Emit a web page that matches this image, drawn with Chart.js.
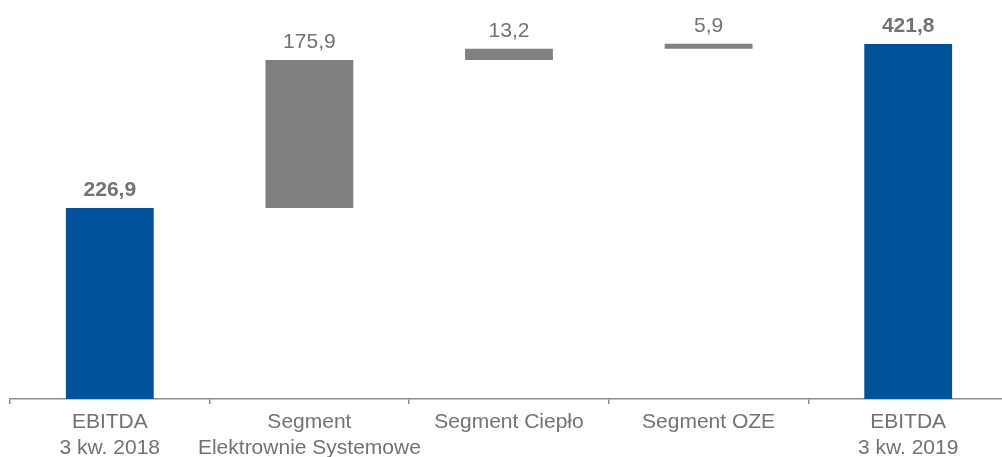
<!DOCTYPE html>
<html>
<head>
<meta charset="utf-8">
<script src="https://cdn.jsdelivr.net/npm/chart.js@4/dist/chart.umd.min.js"></script>
<style>
  html, body { margin: 0; padding: 0; background: #fff; overflow: hidden; }
  #wrap { width: 1008px; height: 457px; }
</style>
</head>
<body>
<div id="wrap"><canvas id="chart" width="1008" height="457"></canvas></div>
<script>
// chart data
const categories = [
  ['EBITDA', '3 kw. 2018'],
  ['Segment', 'Elektrownie Systemowe'],
  'Segment Ciepło',
  'Segment OZE',
  ['EBITDA', '3 kw. 2019']
];
const values = [226.9, 175.9, 13.2, 5.9, 421.8];
const isTotal = [true, false, false, false, true];
const valueLabels = ['226,9', '175,9', '13,2', '5,9', '421,8'];

const BLUE = '#00529b';
const GREY = '#808080';
const TEXT = '#767171';
const FONT = '"Liberation Sans", Arial, sans-serif';

// build floating ranges for the waterfall
let running = 0;
const ranges = values.map((v, i) => {
  if (isTotal[i]) {
    running = v;
    return [0, v];
  }
  const r = [running, running + v];
  running += v;
  return r;
});

const labelPlugin = {
  id: 'valueLabels',
  afterDatasetsDraw(chart) {
    const ctx = chart.ctx;
    const meta = chart.getDatasetMeta(0);
    ctx.save();
    ctx.textAlign = 'center';
    ctx.textBaseline = 'middle';
    ctx.fillStyle = TEXT;
    meta.data.forEach((bar, i) => {
      const top = Math.min(bar.y, bar.base);
      ctx.font = (isTotal[i] ? 'bold ' : '') + '21px ' + FONT;
      ctx.fillText(valueLabels[i], bar.x, top - 18);
    });
    ctx.restore();
  }
};

new Chart(document.getElementById('chart'), {
  type: 'bar',
  data: {
    labels: categories,
    datasets: [{
      data: ranges,
      backgroundColor: isTotal.map(t => t ? BLUE : GREY),
      borderWidth: 0,
      categoryPercentage: 1,
      barPercentage: 0.44
    }]
  },
  options: {
    responsive: false,
    animation: false,
    layout: { padding: { left: 10, right: 0, top: 0, bottom: 0 } },
    plugins: {
      legend: { display: false },
      tooltip: { enabled: false }
    },
    scales: {
      x: {
        afterFit(scale) { scale.height = 58; },
        border: { display: true, color: '#8c8c8c', width: 1.5 },
        grid: {
          display: true,
          drawOnChartArea: false,
          drawTicks: true,
          tickLength: 5,
          color: '#8c8c8c',
          lineWidth: 1.5
        },
        ticks: {
          autoSkip: false,
          maxRotation: 0,
          minRotation: 0,
          padding: 5,
          color: TEXT,
          font: { family: FONT, size: 21, lineHeight: 1.24 }
        }
      },
      y: {
        display: false,
        min: 0,
        max: 474
      }
    }
  },
  plugins: [labelPlugin]
});
</script>
</body>
</html>
